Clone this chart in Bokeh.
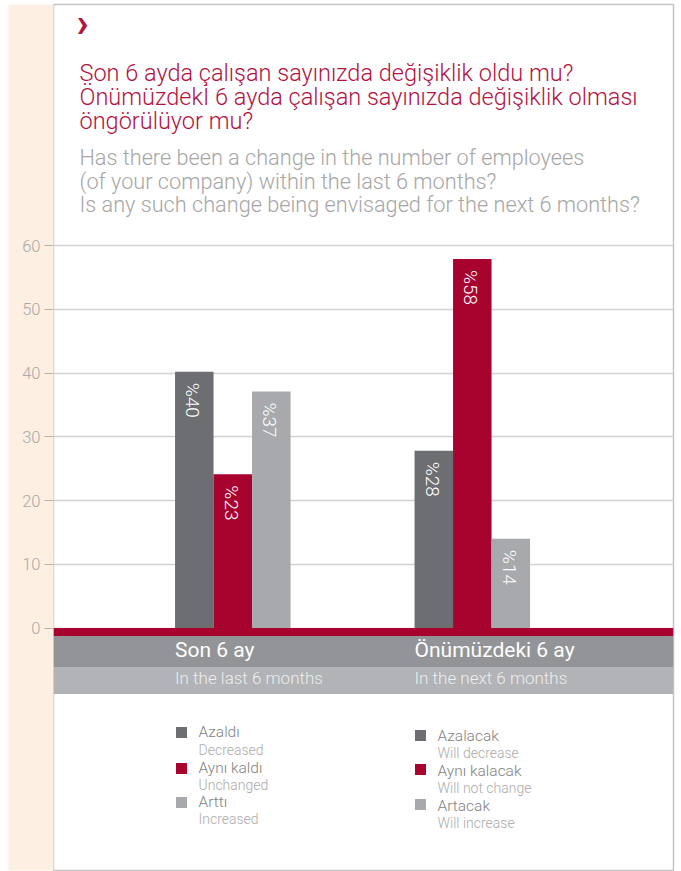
import math
from bokeh.plotting import figure
from bokeh.models import Range1d, FixedTicker, BoxAnnotation, ColumnDataSource, LinearAxis
from bokeh.transform import dodge
from bokeh.core.properties import value
from bokeh.embed import file_html
from bokeh.resources import INLINE

# ---------------- data ----------------
groups = ["Son 6 ay", "Önümüzdeki 6 ay"]
groups_en = ["In the last 6 months", "In the next 6 months"]

decreased = [40.2, 27.8]
unchanged = [24.1, 57.9]
increased = [37.1, 14.0]
lab_decreased = ["%40", "%28"]
lab_unchanged = ["%23", "%58"]
lab_increased = ["%37", "%14"]

legend_left_tr = ["Azaldı", "Aynı kaldı", "Arttı"]
legend_left_en = ["Decreased", "Unchanged", "Increased"]
legend_right_tr = ["Azalacak", "Aynı kalacak", "Artacak"]
legend_right_en = ["Will decrease", "Will not change", "Will increase"]

title_tr = ["Son 6 ayda çalışan sayınızda değişiklik oldu mu?",
            "Önümüzdekİ 6 ayda çalışan sayınızda değişiklik olması",
            "öngörülüyor mu?"]
title_en = ["Has there been a change in the number of employees",
            "(of your company) within the last 6 months?",
            "Is any such change being envisaged for the next 6 months?"]

y_ticks = [0, 10, 20, 30, 40, 50, 60]

# ---------------- styles ----------------
RED = "#a8022f"
DARK = "#6d6e71"
LIGHT = "#a7a9ac"
BAND_DARK = "#929497"
BAND_LIGHT = "#b1b3b6"
BEIGE = "#fdf0e2"
BORDER = "#c4c4c4"
TITLE_RED = "#b3133f"
TITLE_GREY = "#a6a6a6"
LEG_MAIN = "#7f7f7f"
LEG_SUB = "#ababab"
FONT = "Roboto Light, Roboto"

W, H = 681, 871
FL, FR, FT, FB = 53, 673, 4, 870   # frame edges (px)
UX = 239.5         # px per group
X0 = -(232.3 - FL) / UX
Y0PX = 627.5       # px of value 0
UY = 6.375         # px per unit


def xd(px):
    return X0 + (px - FL) / UX


def yd(py):
    return (Y0PX - py) / UY


p = figure(width=W, height=H, output_backend="svg", toolbar_location=None,
           x_range=Range1d(X0, xd(FR)),
           y_range=Range1d(yd(FB), yd(FT)),
           x_axis_location=None,
           min_border_left=FL, min_border_right=W - FR, min_border_top=FT, min_border_bottom=H - FB)
p.title.visible = False
p.background_fill_color = "white"
p.outline_line_color = BORDER
p.outline_line_width = 1.5
for g in p.grid:
    if g.dimension == 0:
        g.visible = False

ax = p.yaxis[0]
have_bg = True
try:
    ax.background_fill_color = BEIGE
    p.border_fill_color = "white"
except AttributeError:
    have_bg = False
    p.border_fill_color = BEIGE
ax.ticker = FixedTicker(ticks=y_ticks)
ax.axis_line_color = None
ax.major_tick_out = 9
ax.major_tick_in = 0
ax.minor_tick_line_color = None
ax.major_tick_line_color = "#b5b5b5"
ax.major_label_text_font = FONT
ax.major_label_text_font_size = "16.5px"
ax.major_label_text_color = "#a9a9a9"
ax.major_label_standoff = 4
ax.axis_label = " "
ax.axis_label_text_font_size = "6.5px"
ax.axis_label_standoff = 1
p.ygrid.grid_line_color = "#d2d2d2"
p.ygrid.grid_line_width = 1.3

if have_bg:
    edge = LinearAxis(ticker=FixedTicker(ticks=[]), axis_line_color=None, major_tick_out=1,
                      major_tick_in=0, minor_tick_line_color=None, major_label_text_font_size="0px",
                      background_fill_color=BORDER)
    p.add_layout(edge, "left")

# bands below the baseline
p.add_layout(BoxAnnotation(top=yd(667), bottom=yd(693.5), fill_color=BAND_LIGHT, fill_alpha=1, line_color=None))
p.add_layout(BoxAnnotation(top=yd(635.5), bottom=yd(667), fill_color=BAND_DARK, fill_alpha=1, line_color=None))
p.add_layout(BoxAnnotation(top=0, bottom=yd(635.5), fill_color=RED, fill_alpha=1, line_color=None))

src = ColumnDataSource(dict(x=[0, 1], grp=groups, grp_en=groups_en,
                            dec=decreased, unc=unchanged, inc=increased,
                            ldec=lab_decreased, lunc=lab_unchanged, linc=lab_increased))
BW = 38.5 / UX
for off, col, lab, color in [(-BW, "dec", "ldec", DARK), (0, "unc", "lunc", RED), (BW, "inc", "linc", LIGHT)]:
    p.vbar(x=dodge("x", off), top=col, width=BW, source=src, fill_color=color, line_color=None)
    p.text(x=dodge("x", off - 0.04 * BW), y=col, text=lab, source=src, angle=-math.pi / 2, y_offset=11,
           text_align="left", text_baseline="middle", text_color="white",
           text_font=value(FONT), text_font_size="19px")

# category labels in bands
p.text(x=dodge("x", -1.5 * BW), y=yd(649), text="grp", source=src, text_color="white",
       text_font=value("Roboto"), text_font_size="21px", text_baseline="alphabetic", level="overlay")
p.text(x=dodge("x", -1.5 * BW), y=yd(677.5), text="grp_en", source=src, text_color="#eeeeee",
       text_font=value(FONT), text_font_size="17px", text_baseline="alphabetic", level="overlay")

# titles
p.text(x=[xd(76)], y=[yd(23)], text=["›"], text_color=TITLE_RED, text_font=value("Roboto"),
       text_font_style="bold", text_font_size="40px", text_baseline="alphabetic")
p.text(x=[xd(79)] * 3, y=[yd(72.5), yd(96.5), yd(120.5)], text=title_tr, text_color=TITLE_RED,
       text_font=value(FONT), text_font_size="23.5px", text_baseline="alphabetic")
p.text(x=[xd(79)] * 3, y=[yd(157), yd(180.5), yd(204)], text=title_en, text_color=TITLE_GREY,
       text_font=value(FONT), text_font_size="21.7px", text_baseline="alphabetic")

# custom legends
sw_colors = [DARK, RED, LIGHT]
for sq_x, tx_x, sq_y, main_y, sub_y, mains, subs in [
        (181, 198, [732, 768, 802], [737, 772.5, 806.5], [754, 789, 823], legend_left_tr, legend_left_en),
        (420, 437, [735, 769, 804], [741, 776, 810.5], [757.5, 792.5, 827], legend_right_tr, legend_right_en)]:
    p.scatter(x=[xd(sq_x)] * 3, y=[yd(v) for v in sq_y], marker="square", size=11,
              fill_color=sw_colors, line_color=None)
    p.text(x=[xd(tx_x)] * 3, y=[yd(v - 5.5) for v in main_y], text=mains, text_color=LEG_MAIN,
           text_font=value(FONT), text_font_size="15.5px", text_baseline="alphabetic")
    p.text(x=[xd(tx_x)] * 3, y=[yd(v - 5) for v in sub_y], text=subs, text_color=LEG_SUB,
           text_font=value(FONT), text_font_size="14px", text_baseline="alphabetic")

open("out.html", "w").write(file_html(p, INLINE))
